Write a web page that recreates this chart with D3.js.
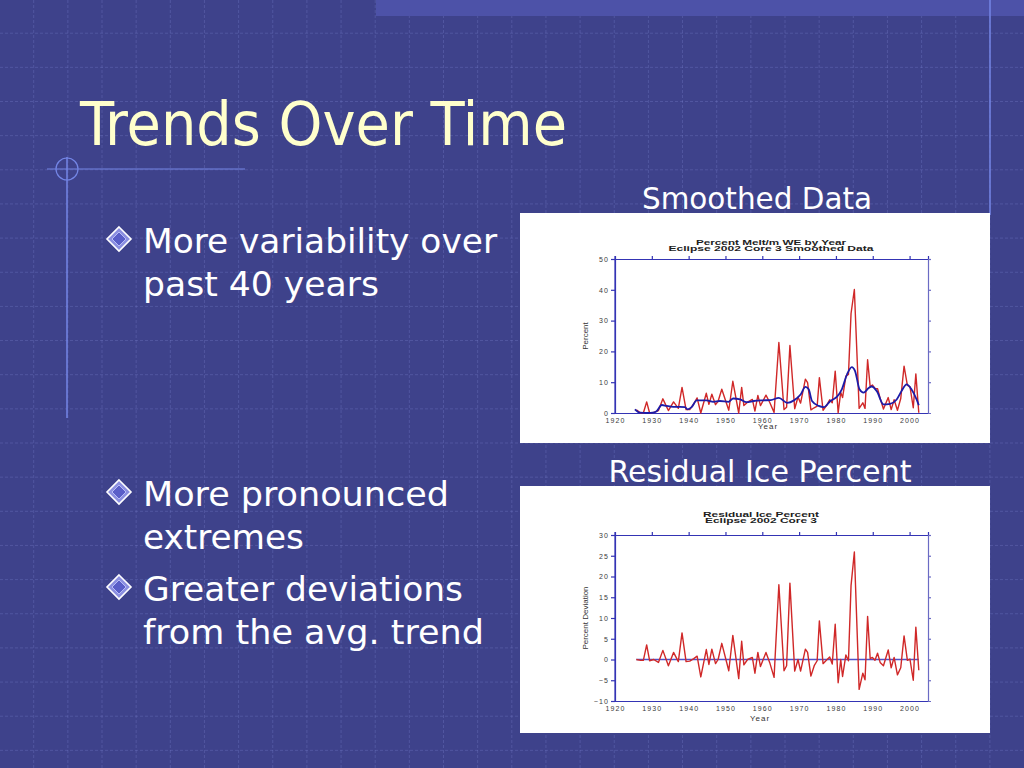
<!DOCTYPE html>
<html>
<head>
<meta charset="utf-8">
<script src="https://cdn.jsdelivr.net/npm/d3@7"></script>
<style>
  html, body { margin: 0; padding: 0; background: #3e428b; }
  svg { display: block; }
</style>
</head>
<body>
<svg id="slide" width="1024" height="768"></svg>
<script>
// sample dates (years)
var sampleYears = [1925.8, 1927.0, 1927.7, 1928.6, 1929.4, 1930.5, 1931.8, 1933.0, 1934.5, 1935.9,
  1937.2, 1938.2, 1939.3, 1940.3, 1941.4, 1942.3, 1943.3, 1944.8, 1945.5, 1946.3,
  1947.3, 1948.0, 1949.0, 1950.9, 1952.0, 1953.6, 1954.4, 1955.0, 1956.0, 1957.3,
  1958.0, 1958.8, 1959.5, 1961.0, 1962.0, 1963.2, 1964.5, 1965.9, 1966.6, 1967.5,
  1968.8, 1969.7, 1970.4, 1971.7, 1972.3, 1973.2, 1974.1, 1974.9, 1975.5, 1976.5,
  1977.4, 1978.3, 1979.0, 1979.8, 1980.6, 1981.3, 1981.8, 1982.7, 1983.4, 1984.1,
  1985.0, 1986.3, 1987.3, 1987.9, 1988.6, 1989.3, 1989.9, 1990.6, 1991.3, 1992.0,
  1992.9, 1994.2, 1995.0, 1995.8, 1996.7, 1997.6, 1998.5, 1999.4, 2000.1, 2001.0,
  2001.7, 2002.5];

// percent melt per m WE (red line, top chart)
var meltPercent = [1.0, 0, 0, 3.6, 0, 0.2, 0.8, 4.6, 0.8, 3.6,
  1.5, 8.3, 1.1, 1.1, 3.0, 4.9, 0, 6.4, 2.8, 6.1,
  2.7, 3.8, 7.7, 0.9, 10.3, 0, 8.3, 2.4, 3.5, 4.4,
  0.6, 5.7, 2.4, 5.8, 3.5, 0.2, 22.9, 1.1, 1.9, 21.9,
  1.4, 5.2, 3.2, 11.0, 9.9, 1.0, 1.7, 2.2, 11.5, 0.9,
  2.3, 4.3, 3.3, 13.6, 0.1, 6.7, 5.0, 12.0, 12.5, 32.3,
  40.1, 1.5, 3.3, 1.5, 17.3, 8.5, 9.1, 8.0, 7.9, 4.8,
  1.3, 5.0, 1.1, 4.3, 0.9, 4.7, 15.2, 9.0, 8.6, 1.7,
  12.7, 0.1];

// residual ice percent deviation (red line, bottom chart)
var residualPct = [0, -0.2, -0.2, 3.5, -0.3, 0, -0.7, 2.2, -1.5, 1.7,
  -0.5, 6.4, -0.5, -0.4, 0.2, 0.8, -4.2, 2.4, -1.2, 2.5,
  -1.0, 0, 3.9, -2.7, 5.8, -4.6, 4.4, -1.3, 0, 0.5,
  -3.3, 1.7, -1.7, 1.7, -0.7, -4.3, 18.0, -2.7, -1.5, 18.4,
  -2.8, 0, -2.8, 2.5, 1.7, -4.0, -1.5, -0.3, 9.3, -1.0,
  -0.2, 0.6, -1.1, 8.5, -5.6, 0, -4.1, 1.1, -0.3, 17.8,
  25.9, -7.2, -3.3, -4.9, 10.4, 0.2, 0.5, -0.2, 1.5, -0.7,
  -1.5, 2.3, -2.0, 0.5, -3.7, -2.0, 5.7, -0.2, 0.1, -5.0,
  7.8, -2.6];

// smoothed curve (blue line, top chart)
var smoothYears = [1925.4, 1926.8, 1929.0, 1930.2, 1931.3, 1932.7, 1934.0, 1935.8, 1937.6, 1939.0,
  1939.7, 1940.8, 1942.2, 1944.9, 1946.7, 1948.5, 1950.8, 1952.1, 1954.0, 1955.7,
  1957.7, 1960.0, 1962.3, 1964.5, 1966.8, 1968.6, 1970.4, 1971.7, 1972.6, 1973.5,
  1975.3, 1976.7, 1978.5, 1980.3, 1981.6, 1983.0, 1984.3, 1985.2, 1986.4, 1987.5,
  1988.8, 1989.7, 1991.1, 1992.9, 1994.7, 1996.5, 1997.8, 1999.2, 2000.5, 2001.9,
  2002.5];
var smoothPercent = [1.2, 0.1, 0, 0.1, 0.6, 2.6, 2.3, 2.0, 2.0, 1.9,
  1.2, 1.9, 4.1, 4.1, 3.6, 3.9, 3.6, 4.7, 4.4, 3.5,
  3.9, 4.1, 4.2, 4.9, 3.3, 4.1, 6.0, 8.5, 7.7, 3.9,
  2.3, 1.9, 3.9, 5.3, 7.7, 12.5, 14.9, 13.6, 7.7, 6.6,
  8.0, 8.6, 7.1, 2.8, 3.0, 4.4, 7.1, 9.3, 7.7, 4.4,
  2.5];

var yearTicks = [1920, 1930, 1940, 1950, 1960, 1970, 1980, 1990, 2000];
var meltTicks = [0, 10, 20, 30, 40, 50];
var residualTicks = [-10, -5, 0, 5, 10, 15, 20, 25, 30];

var svg = d3.select('#slide');
var W = 1024, H = 768;

// background and dashed grid
svg.append('rect').attr('width', W).attr('height', H).attr('fill', '#3e428b');
var grid = svg.append('g')
  .attr('stroke', 'rgba(150,160,235,0.22)')
  .attr('stroke-width', 1)
  .attr('stroke-dasharray', '3,2');
for (var gx = 33.7; gx < W; gx += 34.15) {
  grid.append('line').attr('x1', gx).attr('x2', gx).attr('y1', 0).attr('y2', H);
}
for (var gy = 33.2; gy < H; gy += 34.15) {
  grid.append('line').attr('x1', 0).attr('x2', W).attr('y1', gy).attr('y2', gy);
}

// top band
svg.append('rect').attr('x', 376).attr('y', 0).attr('width', W - 376).attr('height', 16)
  .attr('fill', '#4d52a8');

// decorations
var deco = '#7486e6';
svg.append('line').attr('x1', 990).attr('x2', 990).attr('y1', 0).attr('y2', 215)
  .attr('stroke', deco).attr('stroke-width', 1.5);
svg.append('line').attr('x1', 47).attr('x2', 245).attr('y1', 169).attr('y2', 169)
  .attr('stroke', deco).attr('stroke-width', 1.2);
svg.append('line').attr('x1', 67).attr('x2', 67).attr('y1', 157).attr('y2', 418)
  .attr('stroke', deco).attr('stroke-width', 1.5);
svg.append('circle').attr('cx', 67).attr('cy', 169).attr('r', 11)
  .attr('fill', 'none').attr('stroke', deco).attr('stroke-width', 1.2);

// title
svg.append('text').attr('x', 80).attr('y', 145)
  .attr('font-family', 'DejaVu Sans Condensed, DejaVu Sans, sans-serif')
  .attr('font-size', 60).attr('fill', '#ffffcc')
  .attr('textLength', 487).attr('lengthAdjust', 'spacingAndGlyphs')
  .text('Trends Over Time');

// bullets
var bulletFont = 'DejaVu Sans Condensed, DejaVu Sans, sans-serif';
function diamond(cx, cy) {
  var g = svg.append('g').attr('transform', 'translate(' + cx + ',' + cy + ')');
  g.append('path').attr('d', 'M0,-12L12,0L0,12L-12,0Z')
    .attr('fill', '#8b8fe0').attr('stroke', '#ffffff').attr('stroke-width', 1.6);
  g.append('path').attr('d', 'M0,-7L7,0L0,7L-7,0Z')
    .attr('fill', '#5a5ec8').attr('stroke', '#c8ccff').attr('stroke-width', 0.8);
}
function lines(x, ys, txts, len) {
  txts.forEach(function (t, i) {
    svg.append('text').attr('x', x).attr('y', ys[i])
      .attr('font-family', bulletFont).attr('font-size', 34).attr('fill', '#ffffff')
      .attr('textLength', len[i]).attr('lengthAdjust', 'spacingAndGlyphs')
      .text(t);
  });
}
diamond(119, 239);
lines(143, [253, 296], ['More variability over', 'past 40 years'], [354, 236]);
diamond(119, 492);
lines(143, [506, 549], ['More pronounced', 'extremes'], [306, 161]);
diamond(119, 587);
lines(143, [601, 644], ['Greater deviations', 'from the avg. trend'], [320, 341]);

// chart captions
svg.append('text').attr('x', 757).attr('y', 209).attr('text-anchor', 'middle')
  .attr('font-family', bulletFont).attr('font-size', 30).attr('fill', '#ffffff')
  .attr('textLength', 230).attr('lengthAdjust', 'spacingAndGlyphs')
  .text('Smoothed Data');
svg.append('text').attr('x', 760).attr('y', 482).attr('text-anchor', 'middle')
  .attr('font-family', bulletFont).attr('font-size', 30).attr('fill', '#ffffff')
  .attr('textLength', 303).attr('lengthAdjust', 'spacingAndGlyphs')
  .text('Residual Ice Percent');

// one plot panel
function panel(o) {
  var g = svg.append('g');
  g.append('rect').attr('x', o.box[0]).attr('y', o.box[1])
    .attr('width', o.box[2]).attr('height', o.box[3]).attr('fill', '#ffffff');

  var x = d3.scaleLinear().domain([1920, 2005]).range([615, 928]);
  var y = d3.scaleLinear().domain(o.yDomain).range(o.yRange);
  var axisColor = '#3434b4';

  var bottom = g.append('g').attr('transform', 'translate(0,' + o.yRange[0] + ')')
    .call(d3.axisBottom(x).tickValues(yearTicks).tickSize(0).tickPadding(5).tickFormat(d3.format('d')));
  var left = g.append('g').attr('transform', 'translate(615,0)')
    .call(d3.axisLeft(y).tickValues(o.yTicks).tickSize(4).tickPadding(2));
  var top = g.append('g').attr('transform', 'translate(0,' + o.yRange[1] + ')')
    .call(d3.axisTop(x).tickValues(yearTicks.slice(1)).tickSize(3).tickFormat(''));
  var right = g.append('g').attr('transform', 'translate(928,0)')
    .call(d3.axisRight(y).tickValues(o.yTicks.slice(1)).tickSize(3).tickFormat(''));

  [bottom, left, top].forEach(function (a) {
    a.selectAll('path, line').attr('stroke', axisColor).attr('stroke-width', 1.2);
  });
  right.selectAll('path, line').attr('stroke', '#6b6bc4').attr('stroke-width', 1.2);
  [bottom, left].forEach(function (a) {
    a.selectAll('text').attr('font-family', 'Liberation Sans, Arial, sans-serif')
      .attr('font-size', 7).attr('fill', '#3a3a3a').attr('letter-spacing', 1.1);
  });
  // draw the left axis line past the top frame like the original
  g.append('line').attr('x1', 615).attr('x2', 615)
    .attr('y1', o.yRange[1] - 3).attr('y2', o.yRange[0])
    .attr('stroke', axisColor).attr('stroke-width', 1.2);

  // titles (two tight lines, as in the original)
  o.titles.forEach(function (t, i) {
    g.append('text').attr('x', o.titleX).attr('y', o.titleY + i * 6.3)
      .attr('text-anchor', 'middle')
      .attr('font-family', 'Liberation Sans, Arial, sans-serif').attr('font-weight', 'bold')
      .attr('font-size', 6.6).attr('fill', '#1e1e1e')
      .attr('textLength', o.titleLen[i]).attr('lengthAdjust', 'spacingAndGlyphs')
      .text(t);
  });

  g.append('text').attr('x', o.yLabelX).attr('y', (o.yRange[0] + o.yRange[1]) / 2)
    .attr('transform', 'rotate(-90,' + o.yLabelX + ',' + ((o.yRange[0] + o.yRange[1]) / 2) + ')')
    .attr('text-anchor', 'middle')
    .attr('font-family', 'Liberation Sans Narrow, Liberation Sans, sans-serif')
    .attr('font-size', 8).attr('fill', '#333')
    .text(o.yLabel);

  g.append('text').attr('x', o.xLabelX).attr('y', o.xLabelY).attr('text-anchor', 'middle')
    .attr('font-family', 'Liberation Sans, Arial, sans-serif')
    .attr('font-size', 8).attr('fill', '#333').attr('letter-spacing', 1)
    .text('Year');

  return { g: g, x: x, y: y };
}

// top chart
var p1 = panel({
  box: [520, 213, 470, 230],
  yDomain: [0, 50], yRange: [413, 259], yTicks: meltTicks,
  titles: ['Percent  Melt/m  WE  by  Year', 'Eclipse  2002  Core  3  Smoothed    Data'],
  titleLen: [150, 205],
  titleX: 771, titleY: 244.5,
  yLabel: 'Percent', yLabelX: 588,
  xLabelX: 768, xLabelY: 429
});
var rawLine = d3.line()
  .x(function (d, i) { return p1.x(sampleYears[i]); })
  .y(function (d) { return p1.y(d); });
p1.g.append('path').datum(meltPercent).attr('d', rawLine)
  .attr('fill', 'none').attr('stroke', '#d02828').attr('stroke-width', 1.4)
  .attr('stroke-linejoin', 'round');
var smoothLine = d3.line()
  .x(function (d, i) { return p1.x(smoothYears[i]); })
  .y(function (d) { return p1.y(d); })
  .curve(d3.curveMonotoneX);
p1.g.append('path').datum(smoothPercent).attr('d', smoothLine)
  .attr('fill', 'none').attr('stroke', '#1c1ca8').attr('stroke-width', 1.8);

// bottom chart
var p2 = panel({
  box: [520, 486, 470, 247],
  yDomain: [-10, 30], yRange: [701, 535], yTicks: residualTicks,
  titles: ['Residual  Ice  Percent', 'Eclipse  2002  Core  3'],
  titleLen: [116, 112],
  titleX: 761, titleY: 516.5,
  yLabel: 'Percent Deviation', yLabelX: 588,
  xLabelX: 760, xLabelY: 721
});
p2.g.append('line')
  .attr('x1', p2.x(sampleYears[0])).attr('x2', p2.x(sampleYears[sampleYears.length - 1]))
  .attr('y1', p2.y(0)).attr('y2', p2.y(0))
  .attr('stroke', '#5050c8').attr('stroke-width', 1.3);
var resLine = d3.line()
  .x(function (d, i) { return p2.x(sampleYears[i]); })
  .y(function (d) { return p2.y(d); });
p2.g.append('path').datum(residualPct).attr('d', resLine)
  .attr('fill', 'none').attr('stroke', '#d02828').attr('stroke-width', 1.4)
  .attr('stroke-linejoin', 'round');
</script>
</body>
</html>
